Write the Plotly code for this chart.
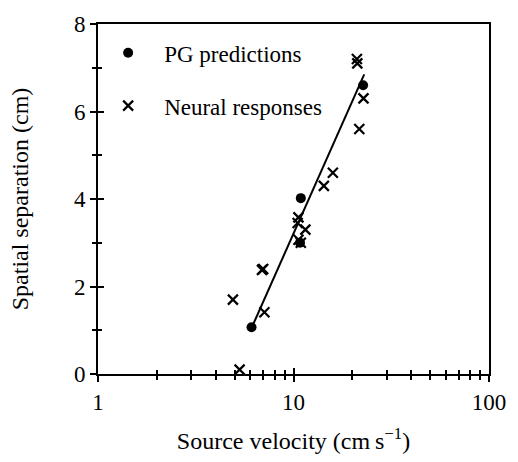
import plotly.graph_objects as go

# PG predictions (filled dots)
pg_velocity = [6.1, 10.9, 10.8, 22.7]
pg_separation = [1.07, 4.02, 3.0, 6.6]

# Neural responses (x markers)
neural_velocity = [5.3, 4.9, 7.1, 7.0, 6.9, 10.6, 10.5, 11.5, 10.6, 10.9, 14.3, 15.9, 21.7, 22.8, 21.1, 21.2]
neural_separation = [0.1, 1.7, 1.41, 2.4, 2.38, 3.58, 3.45, 3.3, 3.07, 3.0, 4.3, 4.6, 5.6, 6.3, 7.2, 7.1]

# fitted line endpoints
fit_velocity = [6.1, 23.0]
fit_separation = [1.05, 6.85]

x_major = [1, 10, 100]
x_minor = [2, 3, 4, 5, 6, 7, 8, 9, 20, 30, 40, 50, 60, 70, 80, 90]
y_major = [0, 2, 4, 6, 8]
y_minor = [1, 3, 5, 7]

FONT = "Liberation Serif"
TICK_FS = 23
TITLE_FS = 24
LEG_FS = 23

fig = go.Figure()

fig.add_trace(go.Scatter(
    x=fit_velocity, y=fit_separation, mode="lines",
    line=dict(color="black", width=2), showlegend=False,
    xaxis="x2", yaxis="y2", hoverinfo="skip"))

fig.add_trace(go.Scatter(
    x=pg_velocity, y=pg_separation, mode="markers", name="PG predictions",
    marker=dict(symbol="circle", size=10, color="black"),
    legendgroup="a"))

fig.add_trace(go.Scatter(
    x=neural_velocity, y=neural_separation, mode="markers", name="Neural responses",
    marker=dict(symbol="x-thin-open", size=10, color="black",
                line=dict(color="black", width=2.2)),
    legendgroup="b"))

axis_common = dict(showgrid=False, zeroline=False, color="black",
                   tickfont=dict(family=FONT, size=TICK_FS, color="black"))

fig.update_layout(
    width=518, height=462,
    margin=dict(l=98, r=27, t=16, b=73),
    paper_bgcolor="white", plot_bgcolor="white",
    font=dict(family=FONT, size=TICK_FS, color="black"),
    xaxis=dict(
        type="log", range=[0, 2],
        tickvals=x_major, ticktext=[str(v) for v in x_major],
        ticks="outside", ticklen=6, tickwidth=1.5, tickcolor="black",
        minor=dict(tickvals=x_minor, ticks="outside", ticklen=4, tickwidth=1.5, tickcolor="black"),
        showline=True, linecolor="black", linewidth=2, mirror=True,
        title=dict(text="Source velocity (cm\u2009s<sup>\u22121</sup>)",
                   font=dict(family=FONT, size=TITLE_FS), standoff=19),
        **axis_common),
    yaxis=dict(
        range=[0, 8],
        tickvals=y_major, ticktext=[str(v) for v in y_major],
        ticks="outside", ticklen=6, tickwidth=1.5, tickcolor="black",
        minor=dict(tickvals=y_minor, ticks="outside", ticklen=4, tickwidth=1.5, tickcolor="black"),
        showline=True, linecolor="black", linewidth=2, mirror=True,
        title=dict(text="Spatial separation (cm)",
                   font=dict(family=FONT, size=TITLE_FS), standoff=39),
        **axis_common),
    xaxis2=dict(
        type="log", range=[0, 2], overlaying="x", anchor="y2",
        tickvals=x_major, showticklabels=False,
        ticks="inside", ticklen=6, tickwidth=1.5, tickcolor="black",
        minor=dict(tickvals=x_minor, ticks="inside", ticklen=4, tickwidth=1.5, tickcolor="black"),
        showgrid=False, zeroline=False, showline=False),
    yaxis2=dict(
        range=[0, 8], overlaying="y", anchor="x2",
        tickvals=y_major, showticklabels=False,
        ticks="inside", ticklen=6, tickwidth=1.5, tickcolor="black",
        minor=dict(tickvals=y_minor, ticks="inside", ticklen=4, tickwidth=1.5, tickcolor="black"),
        showgrid=False, zeroline=False, showline=False),
    legend=dict(x=-0.015, y=0.842, xanchor="left", yanchor="middle",
                bgcolor="rgba(0,0,0,0)", borderwidth=0,
                font=dict(family=FONT, size=LEG_FS),
                itemwidth=62,
                traceorder="grouped", tracegroupgap=20),
)

fig.write_html("out.html")
